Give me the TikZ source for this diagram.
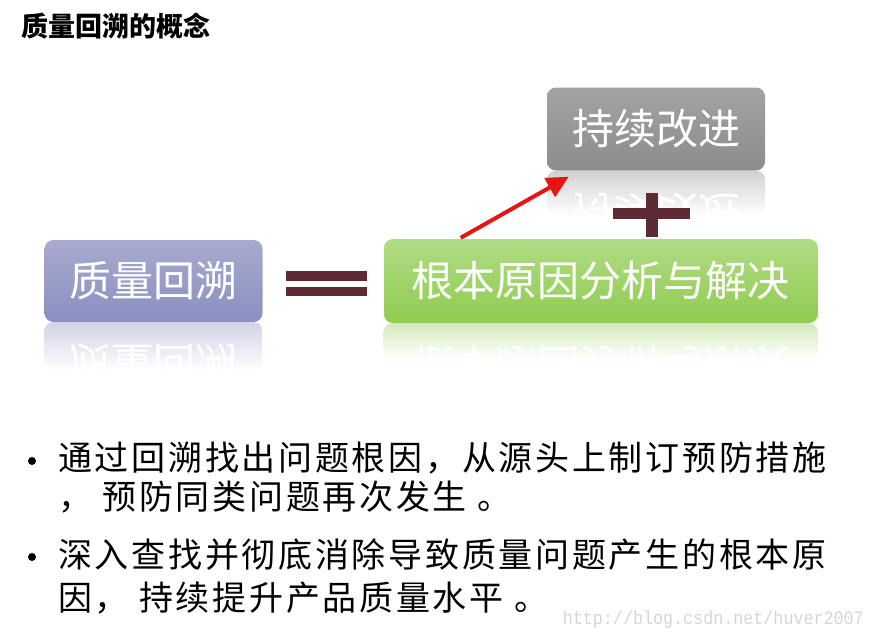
\documentclass[tikz,border=0pt]{standalone}
\usepackage{fontspec}
\setmainfont{Noto Sans CJK SC}
\newfontfamily\cjkbody[LetterSpace=8]{Noto Sans CJK SC}
\newfontfamily\urlfont{Liberation Mono}
\usetikzlibrary{arrows.meta, positioning, calc}

\definecolor{qualityblue}{HTML}{8A8FBF}
\definecolor{rootgreen}{HTML}{8FCC50}
\definecolor{improvegray}{HTML}{8C8C8C}
\definecolor{signred}{HTML}{5E2A35}
\definecolor{arrowred}{HTML}{E81414}
\definecolor{urlgray}{HTML}{D6D6CE}

\begin{document}
\begin{tikzpicture}[
    x=1pt, y=-1pt,
    box/.style={rectangle, rounded corners=9pt, minimum width=218pt, minimum height=82pt, inner sep=0pt, text=white, font=\fontsize{42}{46}\selectfont},
    reflect/.style={yscale=-1, inner sep=0pt, text=white, font=\fontsize{42}{46}\selectfont},
    sign/.style={fill=signred},
    dot/.style={circle, fill=black, inner sep=0pt, minimum size=8pt},
    bullettext/.style={anchor=west, inner sep=0pt, font=\cjkbody\fontsize{34}{38}\selectfont},
    arrow/.style={-{Triangle[length=22pt, width=21pt]}, line width=4pt, draw=arrowred}
]
    \useasboundingbox (0,0) rectangle (875,638);

    % Title
    \node[anchor=west, inner sep=0pt, font=\bfseries\fontsize{27}{30}\selectfont] (title) at (21,26) {质量回溯的概念};

    % Boxes
    \node[box, top color=qualityblue!75!white, bottom color=qualityblue] (quality) at (153.5,281) {质量回溯};
    \node[box, right=121pt of quality, minimum width=434pt, minimum height=84pt, top color=rootgreen!70!white, bottom color=rootgreen] (root) {根本原因分析与解决};
    \node[box, minimum height=83pt, top color=improvegray!80!white, bottom color=improvegray] (improve) at (656,129) {持续改进};

    % Reflections
    \begin{scope}
        \clip[rounded corners=9pt] (quality.south west) rectangle ($(quality.south east)+(0,48)$);
        \shade[top color=qualityblue!40!white, bottom color=white] (quality.south west) rectangle ($(quality.south east)+(0,48)$);
        \node[reflect] (qualityref) at ($(quality.center)+(0,82)$) {质量回溯};
    \end{scope}
    \begin{scope}
        \clip[rounded corners=9pt] (root.south west) rectangle ($(root.south east)+(0,36)$);
        \shade[top color=rootgreen!40!white, bottom color=white] (root.south west) rectangle ($(root.south east)+(0,36)$);
        \node[reflect] (rootref) at ($(root.center)+(0,84)$) {根本原因分析与解决};
    \end{scope}
    \begin{scope}
        \clip[rounded corners=9pt] (improve.south west) rectangle ($(improve.south east)+(0,45)$);
        \shade[top color=improvegray!40!white, bottom color=white] (improve.south west) rectangle ($(improve.south east)+(0,45)$);
        \node[reflect] (improveref) at ($(improve.center)+(0,83)$) {持续改进};
    \end{scope}

    % Signs
    \fill[sign] ($(quality.east)+(23,-10)$) rectangle ($(quality.east)+(104,0)$);
    \fill[sign] ($(quality.east)+(23,6)$) rectangle ($(quality.east)+(104,15)$);
    \fill[sign] ($(improve.south)+(-43,37)$) rectangle ($(improve.south)+(34,48)$);
    \fill[sign] ($(improve.south)+(-10,22)$) rectangle ($(improve.south)+(2,66)$);

    % Arrow
    \coordinate (arrowtail) at ($(root.north west)+(77,-1)$);
    \coordinate (arrowhead) at ($(improve.south west)+(22,6)$);
    \draw[arrow] (arrowtail) -- (arrowhead);

    % Bullets
    \node[dot] (dot1) at (32,461) {};
    \node[bullettext] (line1) at (58,458) {通过回溯找出问题根因，从源头上制订预防措施};
    \node[bullettext] (line2) at (58,497) {， 预防同类问题再次发生 。};
    \node[dot] (dot2) at (32,557) {};
    \node[bullettext] (line3) at (58,555) {深入查找并彻底消除导致质量问题产生的根本原};
    \node[bullettext] (line4) at (58,598) {因， 持续提升产品质量水平 。};

    \node[anchor=east, inner sep=0pt, xscale=0.88, text=urlgray, font=\urlfont\fontsize{19}{20}\selectfont] (url) at (864,620) {http://blog.csdn.net/huver2007};
\end{tikzpicture}
\end{document}
